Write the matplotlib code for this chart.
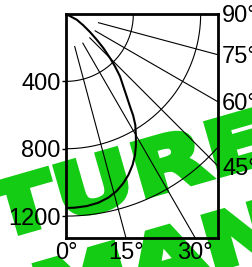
import matplotlib
matplotlib.use("Agg")
import matplotlib.pyplot as plt
import numpy as np
from matplotlib.textpath import TextPath
from matplotlib.patches import PathPatch
from matplotlib.font_manager import FontProperties
from matplotlib.transforms import Affine2D, IdentityTransform

# polar grid: radii (left axis) and angles from the downward vertical
grid_radii = [400, 800, 1200]
grid_angles = [15, 30, 45, 60, 75]
bottom_angles = [0, 15, 30]
right_angles = [45, 60, 75, 90]

# thick curve (angle in degrees, radius)
curve_angle = [65, 62, 56.8, 53.1, 50.1, 47.7, 45, 43.1, 40.9, 38.4, 36.4, 34.7,
               33.5, 32, 30, 28.1, 26.1, 23.8, 21.2, 18.7, 16, 13, 9.7, 6.2, 2.7, 0]
curve_radius = [0, 72, 123, 178, 238, 300, 370, 426, 490, 548, 607, 668,
                723, 777, 830, 882, 932, 980, 1025, 1061, 1093, 1119, 1137, 1147, 1151, 1152]

x_max = 903
y_max = 1330
r_start = 200
r_end = 2000

plt.rcParams['font.family'] = ['Liberation Sans', 'DejaVu Sans']

fig = plt.figure(figsize=(2.53, 2.67), dpi=100)
fig.patch.set_facecolor('white')
ax = fig.add_axes([66 / 253, 29 / 267, 152 / 253, 224 / 267])
ax.set_zorder(1)
ax.patch.set_visible(False)

# green watermark behind the chart (pixel coordinates)
green = '#14cc14'
fp = FontProperties(family='DejaVu Sans', weight='bold')


def watermark(text, x0, y0):
    path = TextPath((0, 0), text, size=73, prop=fp)
    tr = Affine2D().scale(1.36, 1.0).rotate_deg(16).translate(x0, y0)
    patch = PathPatch(tr.transform_path(path), facecolor=green, edgecolor=green,
                      lw=4.3, transform=IdentityTransform(), zorder=0)
    fig.add_artist(patch)


watermark('TURE', -3.5, 28)
watermark('MAN', 41, -52)

# arcs
t = np.radians(np.linspace(0, 90, 200))
for r in grid_radii:
    ax.plot(r * np.sin(t), r * np.cos(t), color='black', lw=0.8)

# radial lines
for a in grid_angles:
    ar = np.radians(a)
    ax.plot([r_start * np.sin(ar), r_end * np.sin(ar)],
            [r_start * np.cos(ar), r_end * np.cos(ar)], color='black', lw=0.8)

# curve
ca = np.radians(curve_angle)
cr = np.array(curve_radius)
ax.plot(cr * np.sin(ca), cr * np.cos(ca), color='black', lw=1.5)

ax.set_xlim(0, x_max)
ax.set_ylim(y_max, 0)

for s in ax.spines.values():
    s.set_linewidth(2)

ax.set_yticks(grid_radii)
ax.set_yticklabels([str(r) for r in grid_radii])
ax.tick_params(axis='y', length=3, width=1, pad=1, labelsize=17)

ax.set_xticks([y_max * np.tan(np.radians(a)) for a in bottom_angles])
ax.set_xticklabels([f'{a}°' for a in bottom_angles])
ax.tick_params(axis='x', length=0, pad=3, labelsize=17)

ax2 = ax.twinx()
ax2.set_ylim(y_max, 0)
ax2.set_yticks([x_max / np.tan(np.radians(a)) for a in right_angles])
ax2.set_yticklabels([f'{a}°' for a in right_angles])
ax2.tick_params(axis='y', length=0, pad=3, labelsize=17)
for s in ax2.spines.values():
    s.set_visible(False)

fig.savefig('out.png', dpi=100)
